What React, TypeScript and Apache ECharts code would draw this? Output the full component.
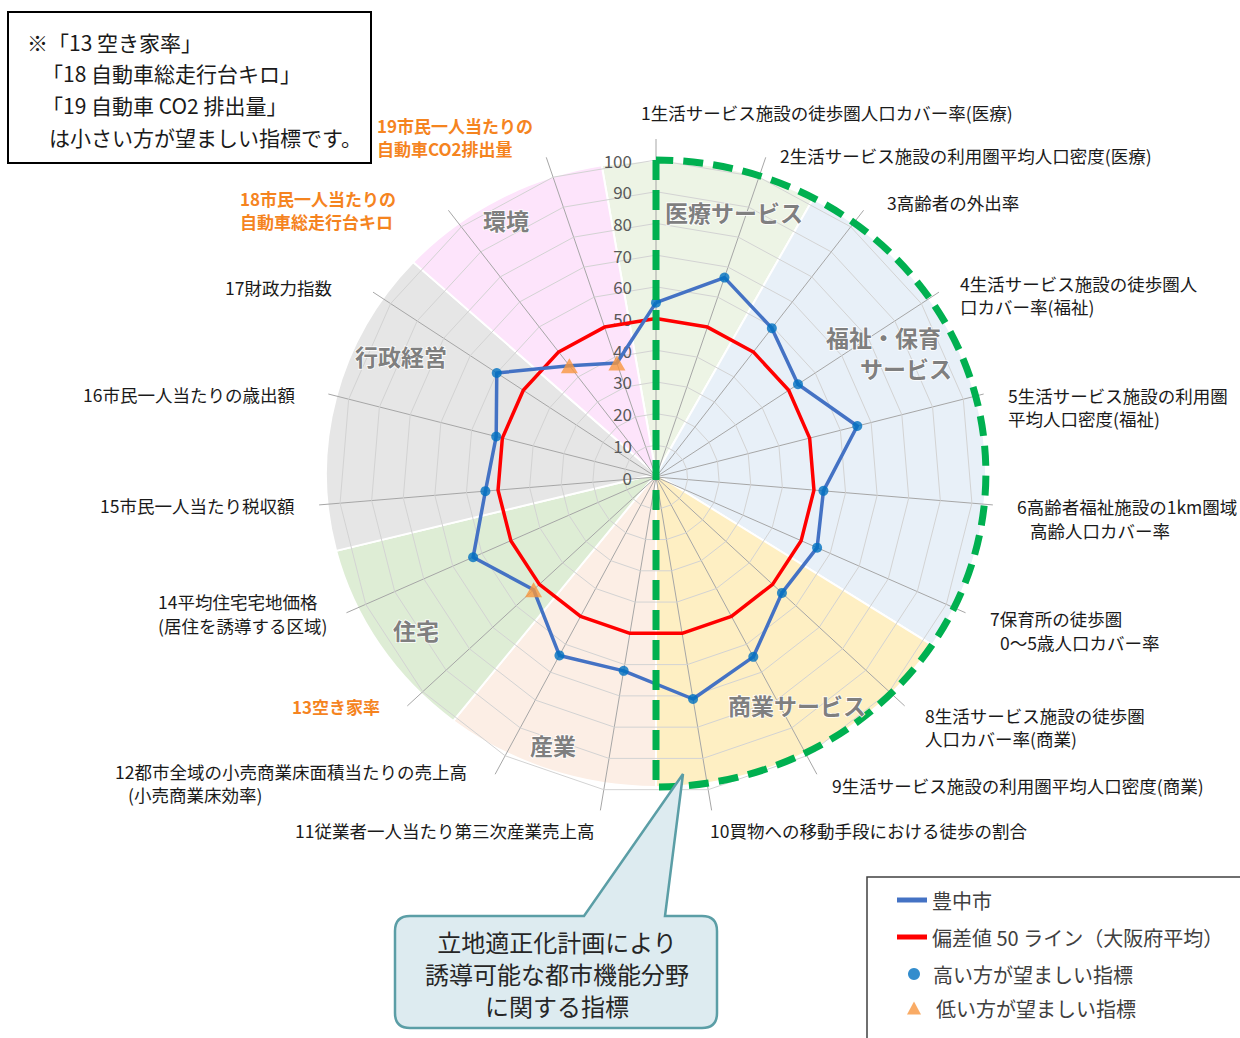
import React, { useEffect, useRef } from 'react';
import * as echarts from 'echarts';

// ---------- data ----------
const axisNameLines: string[][] = [
  ['1生活サービス施設の徒歩圏人口カバー率(医療)'],
  ['2生活サービス施設の利用圏平均人口密度(医療)'],
  ['3高齢者の外出率'],
  ['4生活サービス施設の徒歩圏人', '口カバー率(福祉)'],
  ['5生活サービス施設の利用圏', '平均人口密度(福祉)'],
  ['6高齢者福祉施設の1km圏域', '高齢人口カバー率'],
  ['7保育所の徒歩圏', '0～5歳人口カバー率'],
  ['8生活サービス施設の徒歩圏', '人口カバー率(商業)'],
  ['9生活サービス施設の利用圏平均人口密度(商業)'],
  ['10買物への移動手段における徒歩の割合'],
  ['11従業者一人当たり第三次産業売上高'],
  ['12都市全域の小売商業床面積当たりの売上高', '(小売商業床効率)'],
  ['13空き家率'],
  ['14平均住宅宅地価格', '(居住を誘導する区域)'],
  ['15市民一人当たり税収額'],
  ['16市民一人当たりの歳出額'],
  ['17財政力指数'],
  ['18市民一人当たりの', '自動車総走行台キロ'],
  ['19市民一人当たりの', '自動車CO2排出量'],
];
const toyonakaValues = [55, 66.5, 59.5, 53.5, 65.5, 53, 55.5, 54, 64.5, 71, 62, 64, 52.5, 63, 54, 52, 60, 44.5, 38];
const osakaAverage = [50, 50, 50, 50, 50, 50, 50, 50, 50, 50, 50, 50, 50, 50, 50, 50, 50, 50, 50];
const lowerIsBetter = [13, 18, 19];
const axisMin = 0;
const axisMax = 100;
const axisInterval = 10;

const sectorNames = ['医療サービス', '福祉・保育サービス', '商業サービス', '産業', '住宅', '行政経営', '環境'];
const sectorLabelLines: string[][] = [['医療サービス'], ['福祉・保育', 'サービス'], ['商業サービス'], ['産業'], ['住宅'], ['行政経営'], ['環境']];
const sectorAxisCounts = [2, 5, 3, 2, 2, 3, 2];

const seriesNameCity = '豊中市';
const seriesNameAvg = '偏差値 50 ライン（大阪府平均）';
const markerNameHigh = '高い方が望ましい指標';
const markerNameLow = '低い方が望ましい指標';

const noteLines = ['※「13 空き家率」', '「18 自動車総走行台キロ」', '「19 自動車 CO2 排出量」', 'は小さい方が望ましい指標です。'];
const calloutLines = ['立地適正化計画により', '誘導可能な都市機能分野', 'に関する指標'];

// ---------- layout / style ----------
const FONT = '"Noto Sans CJK JP", "Noto Sans", sans-serif';
const CX = 656;
const CY = 477;
const R = 317;
const sectorColors = ['#EDF4E5', '#E8F0F8', '#FEEFC3', '#FCEEE5', '#DEEDD5', '#E6E6E6', '#FDE4FB'];
const labelPos: [number, number][][] = [
  [[641, 112]],
  [[780, 155]],
  [[887, 202]],
  [[960, 283], [960, 306]],
  [[1008, 395], [1008, 418]],
  [[1017, 506], [1030, 530]],
  [[990, 618], [1000, 642]],
  [[925, 715], [925, 738]],
  [[832, 785]],
  [[710, 830]],
  [[295, 830]],
  [[115, 771], [128, 794]],
  [[292, 706]],
  [[158, 601], [158, 625]],
  [[100, 505]],
  [[83, 394]],
  [[225, 287]],
  [[240, 198], [240, 221]],
  [[377, 125], [377, 148]],
];
const sectorLabelPos: [number, number][][] = [
  [[665, 212]],
  [[826, 337], [860, 368]],
  [[728, 705]],
  [[530, 745]],
  [[393, 630]],
  [[355, 356]],
  [[483, 220]],
];
const notePos: [number, number][] = [[27, 42], [42, 73], [42, 105], [49, 137]];

const FRAME_D = 'M656,160 L656,787 A330,313.5 0 0 0 656,160';
const CALLOUT_D =
  'M412,916 L584,916 L683,774 L665,916 L702,916 Q717,916 717,931 L717,1013 Q717,1028 702,1028 L410,1028 Q395,1028 395,1013 L395,931 Q395,916 410,916 Z';

echarts.graphic.registerShape('dashFrame', echarts.graphic.extendPath(FRAME_D, {}));
echarts.graphic.registerShape('calloutShape', echarts.graphic.extendPath(CALLOUT_D, {}));

function buildOption() {
  const n = axisNameLines.length;
  const step = 360 / n;
  const fullNames = axisNameLines.map((l) => l.join(''));
  // ECharts radar runs counter-clockwise; reorder so axis 1..19 run clockwise
  const order = [0, ...Array.from({ length: n - 1 }, (_, i) => n - 1 - i)];

  const indicators = order.map((i) => ({
    name: fullNames[i],
    min: axisMin,
    max: axisMax,
    ...(i === 0 ? { axisLabel: { show: true } } : {}),
  }));

  // background sectors
  const sectors: any[] = [];
  let cum = 0;
  sectorAxisCounts.forEach((c, i) => {
    const a = -step / 2 + cum * step;
    const b = a + c * step;
    cum += c;
    sectors.push({
      type: 'sector',
      silent: true,
      z: 0,
      shape: {
        cx: 0,
        cy: 0,
        r: 330,
        r0: 0,
        startAngle: ((a - 90) * Math.PI) / 180,
        endAngle: ((b - 90) * Math.PI) / 180,
        clockwise: true,
      },
      style: { fill: sectorColors[i], stroke: '#ffffff', lineWidth: 2 },
    });
  });

  const texts: any[] = [];
  axisNameLines.forEach((lines, i) => {
    const low = lowerIsBetter.includes(i + 1);
    lines.forEach((t, j) => {
      const [x, y] = labelPos[i][j];
      texts.push({
        type: 'text',
        x,
        y,
        z: 20,
        silent: true,
        style: {
          text: t,
          fill: low ? '#F5841F' : '#1A1A1A',
          fontSize: low ? 17 : 17.5,
          lineHeight: 20,
          fontWeight: low ? 'bold' : 'normal',
          fontFamily: FONT,
          align: 'left',
          verticalAlign: 'middle',
          textAlign: 'left',
          textVerticalAlign: 'middle',
        },
      });
    });
  });
  sectorLabelLines.forEach((lines, i) => {
    lines.forEach((t, j) => {
      const [x, y] = sectorLabelPos[i][j];
      texts.push({
        type: 'text',
        x,
        y,
        z: 20,
        silent: true,
        style: {
          text: t,
          fill: '#7F7F7F',
          fontSize: 23,
          lineHeight: 26,
          fontWeight: 'bold',
          fontFamily: FONT,
          stroke: '#ffffff',
          lineWidth: 1.5,
          align: 'left',
          verticalAlign: 'middle',
          textAlign: 'left',
          textVerticalAlign: 'middle',
        },
      });
    });
  });
  noteLines.forEach((t, i) => {
    texts.push({
      type: 'text',
      x: notePos[i][0],
      y: notePos[i][1],
      z: 21,
      silent: true,
      style: {
        text: t,
        fill: '#1A1A1A',
        fontSize: 21,
        fontFamily: FONT,
        align: 'left',
        verticalAlign: 'middle',
        textAlign: 'left',
        textVerticalAlign: 'middle',
      },
    });
  });
  calloutLines.forEach((t, i) => {
    texts.push({
      type: 'text',
      x: 557,
      y: 941 + i * 32,
      z: 21,
      silent: true,
      style: {
        text: t,
        fill: '#262626',
        fontSize: 24,
        lineHeight: 28,
        fontFamily: FONT,
        align: 'center',
        verticalAlign: 'middle',
        textAlign: 'center',
        textVerticalAlign: 'middle',
      },
    });
  });

  const highData: any[] = [];
  const lowData: any[] = [];
  toyonakaValues.forEach((v, i) => {
    (lowerIsBetter.includes(i + 1) ? lowData : highData).push([v, i]);
  });

  const legendText = { fontSize: 20, color: '#404040', fontFamily: FONT };

  return {
    animation: false,
    textStyle: { fontFamily: FONT },
    graphic: {
      elements: [
        {
          type: 'group',
          x: CX,
          y: 474,
          scaleY: 313 / 330,
          z: 0,
          silent: true,
          children: sectors,
        },
        {
          type: 'dashFrame',
          z: 8,
          silent: true,
          style: { fill: 'none', stroke: '#00B050', lineWidth: 7, lineDash: [20, 10] },
        },
        {
          type: 'calloutShape',
          z: 9,
          silent: true,
          style: { fill: '#DDEBF0', stroke: '#5B9EA6', lineWidth: 2.5 },
        },
        {
          type: 'rect',
          z: 9,
          silent: true,
          shape: { x: 8, y: 12, width: 363, height: 151 },
          style: { fill: '#ffffff', stroke: '#000000', lineWidth: 2 },
        },
        {
          type: 'rect',
          z: 1,
          silent: true,
          shape: { x: 867, y: 877, width: 420, height: 220 },
          style: { fill: '#ffffff', stroke: '#404040', lineWidth: 1.5 },
        },
        ...texts,
      ],
    },
    legend: [
      {
        data: [seriesNameCity, seriesNameAvg],
        orient: 'vertical',
        left: 892,
        top: 885,
        itemWidth: 30,
        itemHeight: 5,
        itemGap: 17,
        icon: 'rect',
        selectedMode: false,
        textStyle: legendText,
      },
      {
        data: [markerNameHigh],
        orient: 'vertical',
        left: 903,
        top: 959,
        itemWidth: 12,
        itemHeight: 12,
        selectedMode: false,
        textStyle: { ...legendText, padding: [0, 0, 0, 8] },
      },
      {
        data: [markerNameLow],
        orient: 'vertical',
        left: 902,
        top: 993,
        itemWidth: 14,
        itemHeight: 13,
        selectedMode: false,
        textStyle: { ...legendText, padding: [0, 0, 0, 10] },
      },
    ],
    radar: {
      center: [CX, CY],
      radius: R,
      startAngle: 90,
      shape: 'polygon',
      splitNumber: (axisMax - axisMin) / axisInterval,
      indicator: indicators,
      axisName: { show: false },
      axisLine: { show: false },
      axisTick: { show: false },
      splitArea: { show: false },
      splitLine: { lineStyle: { color: '#D3D3D3', width: 1 } },
      axisLabel: { show: false, color: '#595959', fontSize: 17, margin: 24, fontFamily: FONT },
      z: 2,
    },
    polar: [
      { center: [CX, CY], radius: R },
      { center: [CX, CY], radius: 338 },
    ],
    angleAxis: [
      {
        polarIndex: 0,
        type: 'category',
        data: fullNames,
        startAngle: 90,
        clockwise: true,
        boundaryGap: false,
        show: false,
      },
      {
        polarIndex: 1,
        type: 'category',
        data: fullNames,
        startAngle: 90,
        clockwise: true,
        boundaryGap: false,
        z: 1,
        axisLine: { show: false },
        axisTick: { show: false },
        axisLabel: { show: false },
        splitLine: { show: true, lineStyle: { color: '#A6A6A6', width: 1 } },
      },
    ],
    radiusAxis: [
      { polarIndex: 0, min: axisMin, max: axisMax, show: false },
      { polarIndex: 1, min: axisMin, max: axisMax, show: false },
    ],
    series: [
      {
        type: 'radar',
        symbol: 'none',
        z: 3,
        data: [
          {
            name: seriesNameAvg,
            value: order.map((i) => osakaAverage[i]),
            lineStyle: { color: '#FF0000', width: 3.5 },
            itemStyle: { color: '#FF0000' },
          },
          {
            name: seriesNameCity,
            value: order.map((i) => toyonakaValues[i]),
            lineStyle: { color: '#4472C4', width: 3.5 },
            itemStyle: { color: '#4472C4' },
          },
        ],
      },
      {
        type: 'scatter',
        name: markerNameHigh,
        coordinateSystem: 'polar',
        polarIndex: 0,
        symbol: 'circle',
        symbolSize: 10,
        itemStyle: { color: '#0070C0' },
        z: 5,
        data: highData,
      },
      {
        type: 'scatter',
        name: markerNameLow,
        coordinateSystem: 'polar',
        polarIndex: 0,
        symbol: 'triangle',
        symbolSize: [17, 15],
        itemStyle: { color: '#F7963F' },
        z: 5,
        data: lowData,
      },
    ],
  };
}

export default function App() {
  const ref = useRef<HTMLDivElement>(null);
  useEffect(() => {
    document.body.style.margin = '0';
    if (!ref.current) return;
    const chart = echarts.init(ref.current, undefined, { renderer: 'svg' });
    chart.setOption(buildOption() as any);
    return () => chart.dispose();
  }, []);
  return <div ref={ref} style={{ width: 1240, height: 1038, background: '#ffffff' }} />;
}
